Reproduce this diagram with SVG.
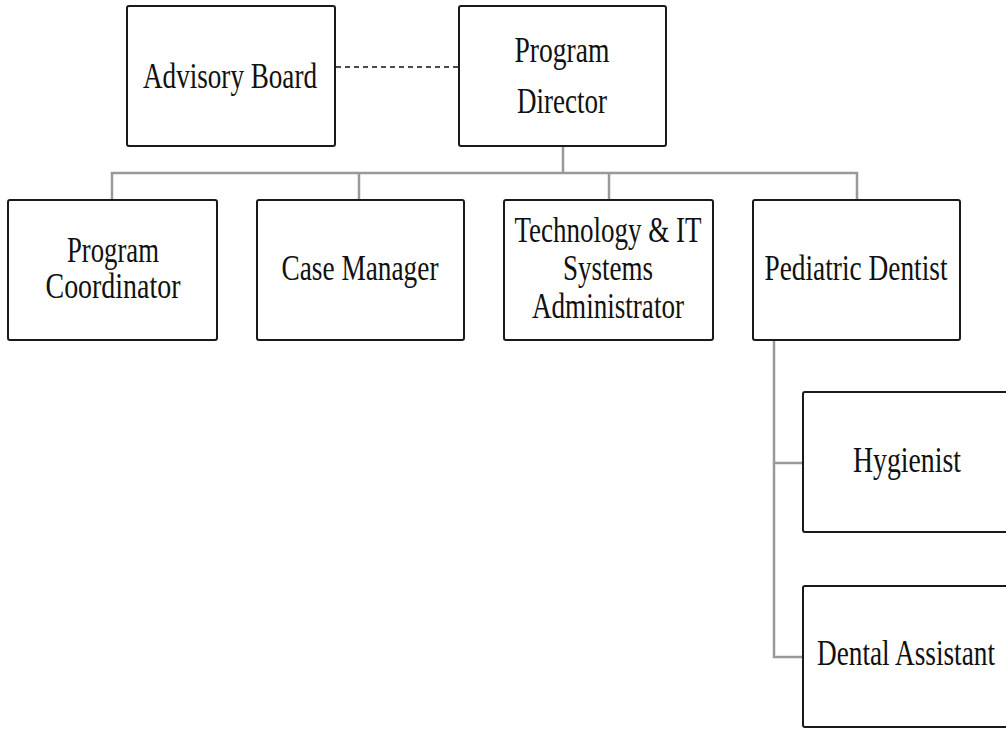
<svg xmlns="http://www.w3.org/2000/svg" width="1006" height="730" viewBox="0 0 1006 730">
<style>
.box{fill:#fff;stroke:#1a1a1a;stroke-width:2}
.t{font-family:"Liberation Serif","Times New Roman",serif;font-size:35px;fill:#111;text-anchor:middle}
.c{fill:none;stroke:#999;stroke-width:2.5}
.d{fill:none;stroke:#111;stroke-width:1.5;stroke-dasharray:5 4}
</style>
<rect width="1006" height="730" fill="#fff"/>
<g id="connectors">
<line class="d" x1="336" y1="67" x2="458" y2="67"/>
<polyline class="c" points="563,147 563,173"/>
<polyline class="c" points="112,200 112,173 857,173 857,200"/>
<polyline class="c" points="359,173 359,200"/>
<polyline class="c" points="609,173 609,200"/>
<polyline class="c" points="774,341 774,657 803,657"/>
<polyline class="c" points="774,463 803,463"/>
</g>
<g id="advisory-board">
<rect class="box" x="127" y="6" width="208" height="140" rx="2"/>
<text class="t" x="230" y="88" textLength="174" lengthAdjust="spacingAndGlyphs">Advisory Board</text>
</g>
<g id="program-director">
<rect class="box" x="459" y="6" width="207" height="140" rx="2"/>
<text class="t" x="562" y="62" textLength="95" lengthAdjust="spacingAndGlyphs">Program</text>
<text class="t" x="562" y="113" textLength="90" lengthAdjust="spacingAndGlyphs">Director</text>
</g>
<g id="program-coordinator">
<rect class="box" x="8" y="200" width="209" height="140" rx="2"/>
<text class="t" x="113" y="262" textLength="92" lengthAdjust="spacingAndGlyphs">Program</text>
<text class="t" x="113" y="298" textLength="135" lengthAdjust="spacingAndGlyphs">Coordinator</text>
</g>
<g id="case-manager">
<rect class="box" x="257" y="200" width="207" height="140" rx="2"/>
<text class="t" x="360" y="280" textLength="157" lengthAdjust="spacingAndGlyphs">Case Manager</text>
</g>
<g id="tech-it">
<rect class="box" x="504" y="200" width="209" height="140" rx="2"/>
<text class="t" x="608" y="242" textLength="187" lengthAdjust="spacingAndGlyphs">Technology &amp; IT</text>
<text class="t" x="608" y="280" textLength="90" lengthAdjust="spacingAndGlyphs">Systems</text>
<text class="t" x="608" y="318" textLength="152" lengthAdjust="spacingAndGlyphs">Administrator</text>
</g>
<g id="pediatric-dentist">
<rect class="box" x="753" y="200" width="207" height="140" rx="2"/>
<text class="t" x="856" y="280" textLength="183" lengthAdjust="spacingAndGlyphs">Pediatric Dentist</text>
</g>
<g id="hygienist">
<rect class="box" x="803" y="392" width="212" height="140" rx="2"/>
<text class="t" x="907" y="472" textLength="108" lengthAdjust="spacingAndGlyphs">Hygienist</text>
</g>
<g id="dental-assistant">
<rect class="box" x="803" y="586" width="212" height="141" rx="2"/>
<text class="t" x="906" y="665" textLength="178" lengthAdjust="spacingAndGlyphs">Dental Assistant</text>
</g>
</svg>
